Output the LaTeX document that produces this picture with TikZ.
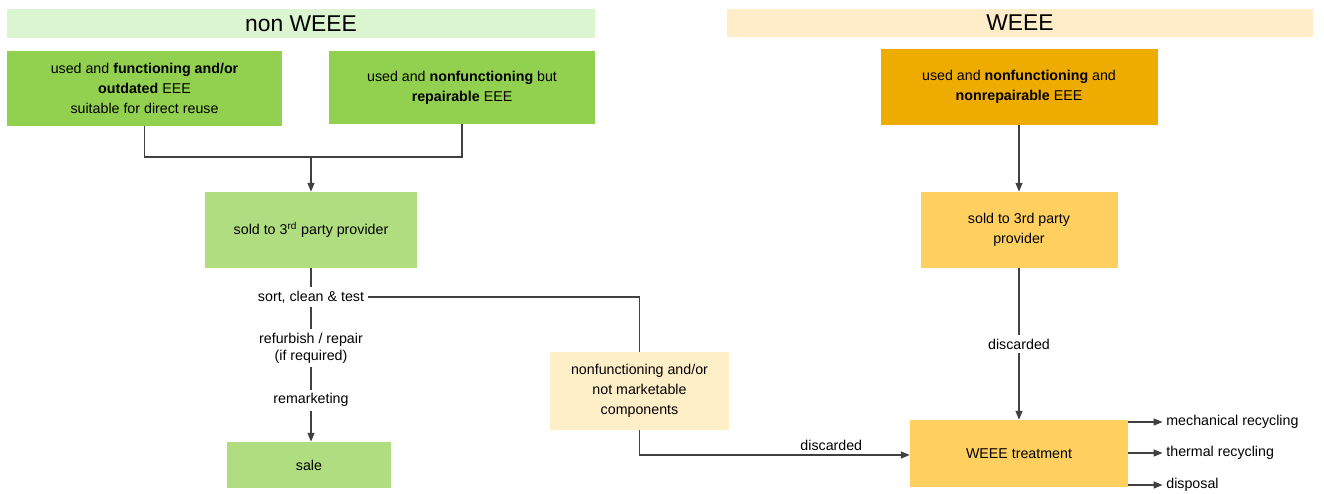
\documentclass[tikz,border=0pt]{standalone}
\usepackage{fontspec}
\setmainfont{Liberation Sans}
\usetikzlibrary{arrows.meta, positioning}

\definecolor{hdrgreen}{HTML}{DAF5CF}
\definecolor{hdrcream}{HTML}{FFEDC9}
\definecolor{darkgreen}{HTML}{92D050}
\definecolor{lightgreen}{HTML}{B0DD80}
\definecolor{weeeorange}{HTML}{EFAC00}
\definecolor{weeeyellow}{HTML}{FFD060}
\definecolor{compcream}{HTML}{FFEFC8}
\definecolor{linegray}{HTML}{404040}

\begin{document}
\begin{tikzpicture}[
 box/.style = {inner sep = 2pt, align = center, font = \fontsize{8.1}{11.3}\selectfont},
 hdr/.style = {inner sep = 0pt, font = \fontsize{13}{15}\selectfont},
 lbl/.style = {inner sep = 2pt, align = center, font = \fontsize{8.1}{9.8}\selectfont},
 conn/.style = {draw = linegray, line width = .6pt},
 arr/.style = {conn, -{Triangle[length=5pt, width=4pt]}}
]

\useasboundingbox (0,0) rectangle (26.48,-9.88);

% headers
\node (hnon) at (6.02,-0.47) [hdr, fill = hdrgreen, minimum width = 11.76cm, minimum height = .58cm] {non WEEE};
\node (hweee) at (20.40,-0.46) [hdr, fill = hdrcream, minimum width = 11.72cm, minimum height = .56cm] {WEEE};

% non WEEE side
\node (func) at (2.89,-1.77) [box, fill = darkgreen, minimum width = 5.50cm, minimum height = 1.50cm] {used and \textbf{functioning and/or}\\\textbf{outdated} EEE\\suitable for direct reuse};
\node (repair) at (9.24,-1.75) [box, fill = darkgreen, minimum width = 5.32cm, minimum height = 1.46cm] {used and \textbf{nonfunctioning} but\\\textbf{repairable} EEE};
\node (sold) at (6.22,-4.60) [box, fill = lightgreen, minimum width = 4.24cm, minimum height = 1.52cm] {sold to 3\textsuperscript{rd} party provider};
\node (sale) at (6.18,-9.30) [box, fill = lightgreen, minimum width = 3.28cm, minimum height = .92cm] {sale};
\node (comp) at (12.79,-7.82) [box, fill = compcream, minimum width = 3.58cm, minimum height = 1.56cm] {nonfunctioning and/or\\not marketable\\components};

\node (sort) at (6.22,-5.94) [lbl] {sort, clean \& test};
\node (refurb) at (6.22,-6.96) [lbl] {refurbish / repair\\(if required)};
\node (remark) at (6.22,-8.00) [lbl] {remarketing};

% WEEE side
\node (nonrep) at (20.38,-1.74) [box, fill = weeeorange, minimum width = 5.54cm, minimum height = 1.52cm] {used and \textbf{nonfunctioning} and\\\textbf{nonrepairable} EEE};
\node (soldw) at (20.38,-4.60) [box, fill = weeeyellow, minimum width = 3.94cm, minimum height = 1.52cm] {sold to 3rd party\\provider};
\node (disc) at (20.38,-6.88) [lbl] {discarded};
\node (treat) at (20.38,-9.07) [box, fill = weeeyellow, minimum width = 4.36cm, minimum height = 1.34cm] {WEEE treatment};

\node (mech) at (23.25,-8.44) [lbl, anchor = west] {mechanical recycling};
\node (therm) at (23.25,-9.06) [lbl, anchor = west] {thermal recycling};
\node (disp) at (23.25,-9.70) [lbl, anchor = west] {disposal};

% connectors
\coordinate (join) at (6.22,-3.14);
\draw [conn] (func.south) |- (join) -| (repair.south);
\draw [arr] (join) -- (sold.north);
\draw [conn] (sold.south) -- (sort) -- (refurb) -- (remark);
\draw [arr] (remark) -- (remark |- sale.north);
\draw [conn] (sort.east) -| (comp.north);
\draw [arr] (comp.south) |- (treat.west |- 0,-9.10) node [lbl, pos = .855, above] {discarded};

\draw [arr] (nonrep.south) -- (soldw.north);
\draw [conn] (soldw.south) -- (disc);
\draw [arr] (disc) -- (treat.north);

\draw [arr] (treat.east |- mech) -- (mech.west);
\draw [arr] (treat.east |- therm) -- (therm.west);
\draw [arr] (treat.east |- disp) -- (disp.west);

\end{tikzpicture}
\end{document}
